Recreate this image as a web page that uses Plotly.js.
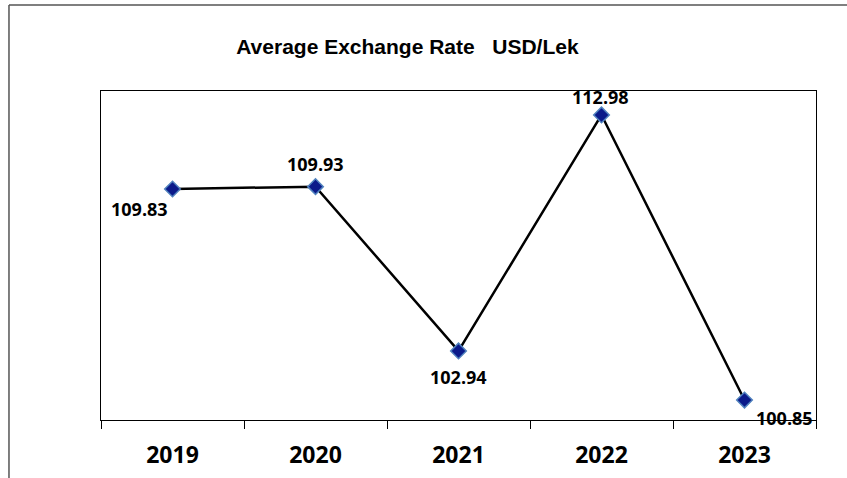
<!DOCTYPE html>
<html>
<head>
<meta charset="utf-8">
<script src="https://cdn.plot.ly/plotly-3.0.1.min.js"></script>
<style>html,body{margin:0;padding:0;background:#fff;}#chart{width:847px;height:478px;}</style>
</head>
<body>
<div id="chart"></div>
<script>
const years = ['2019', '2020', '2021', '2022', '2023'];
const rates = [109.83, 109.93, 102.94, 112.98, 100.85];
const labelTexts = ['109.83', '109.93', '102.94', '112.98', '100.85'];
const chartTitle = 'Average Exchange Rate&nbsp;&nbsp;&nbsp;USD/Lek';

// label placement offsets (px) relative to each point
const labelDX = [-33, 0, 0, -1, 40];
const labelDY = [-20, 23, -26, 18, -18];

const labelFont = {family: 'Open Sans, Arial, sans-serif', size: 18, color: '#000', weight: 'bold'};

const trace = {
  type: 'scatter',
  mode: 'lines+markers',
  x: years,
  y: rates,
  line: {color: '#000', width: 2.5},
  marker: {symbol: 'diamond', size: 12, color: '#0b1a8a', line: {color: '#4f81bd', width: 1.5}},
  hoverinfo: 'x+y'
};

const annotations = years.map((yr, i) => ({
  x: i, y: rates[i], xref: 'x', yref: 'y',
  text: '<b>' + labelTexts[i] + '</b>',
  showarrow: false, xshift: labelDX[i], yshift: labelDY[i],
  font: labelFont
}));

const layout = {
  width: 847, height: 478,
  margin: {l: 101, r: 31, t: 91, b: 58},
  paper_bgcolor: '#fff', plot_bgcolor: '#fff',
  showlegend: false,
  title: {
    text: '<b>' + chartTitle + '</b>',
    x: 0.481, xref: 'container', xanchor: 'center',
    y: 1 - 47 / 478, yref: 'container', yanchor: 'middle',
    font: {family: 'Liberation Sans, Arial, sans-serif', size: 21, color: '#000'}
  },
  xaxis: {
    type: 'category',
    range: [-0.5, years.length - 0.5],
    autorange: false,
    tickson: 'boundaries',
    tickangle: 0,
    ticks: 'outside', ticklen: 8, tickcolor: '#000', tickwidth: 1,
    showline: true, linecolor: '#000', linewidth: 1.2, mirror: true,
    showgrid: false, zeroline: false,
    tickfont: {family: 'Open Sans, Arial, sans-serif', size: 23, color: '#000', weight: 'bold'},
    ticklabelstandoff: 14,
    fixedrange: true
  },
  yaxis: {
    range: [100, 114],
    autorange: false,
    showticklabels: false, ticks: '',
    showline: true, linecolor: '#000', linewidth: 1.2, mirror: true,
    showgrid: false, zeroline: false,
    fixedrange: true
  },
  annotations: annotations,
  shapes: [
    {type: 'line', xref: 'paper', yref: 'paper', x0: -0.1287, x1: 1.05, y0: 1.2614, y1: 1.2614, line: {color: '#555', width: 1.5}},
    {type: 'line', xref: 'paper', yref: 'paper', x0: -0.1287, x1: -0.1287, y0: 1.2614, y1: -0.19, line: {color: '#555', width: 1.5}}
  ]
};

Plotly.newPlot('chart', [trace], layout, {displayModeBar: false, staticPlot: true});
</script>
</body>
</html>
